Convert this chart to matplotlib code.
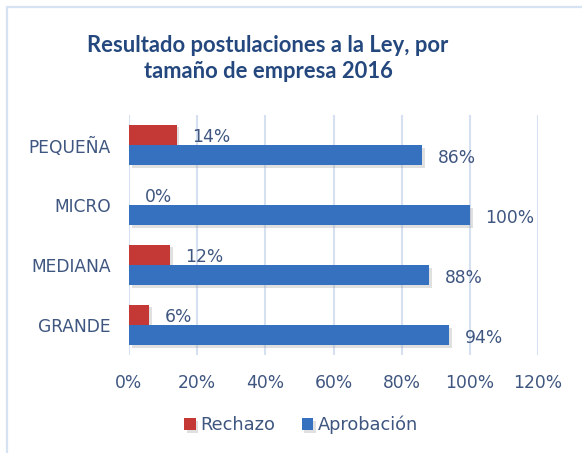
import matplotlib
matplotlib.use("Agg")
import matplotlib.pyplot as plt
import matplotlib.patheffects as pe
from matplotlib.patches import Rectangle
import numpy as np

categories = ["GRANDE", "MEDIANA", "MICRO", "PEQUEÑA"]
rechazo = [6, 12, 0, 14]
aprobacion = [94, 88, 100, 86]
xticks = [0, 20, 40, 60, 80, 100, 120]
title = "Resultado postulaciones a la Ley, por\ntamaño de empresa 2016"

plt.rcParams['font.family'] = ['DejaVu Sans']
txt = '#3F5680'
red = '#C43836'
blue = '#3671C0'
grid = '#D5E1F1'
fs = 12.3

fig = plt.figure(figsize=(5.82, 4.53), dpi=100)
fig.patches.append(Rectangle((7/582, -0.1), 1.2, 1 - 7/453 + 0.1, transform=fig.transFigure,
                             fill=False, edgecolor='#D6E3F3', linewidth=1.6))
ax = fig.add_axes([129/582, 1 - 355/453, (538 - 129)/582, (355 - 115)/453])

y = np.arange(len(categories))
h = 0.34
shadow = [pe.SimplePatchShadow(offset=(2, -2), shadow_rgbFace='#999999', alpha=0.3), pe.Normal()]
b1 = ax.barh(y + h/2, rechazo, height=h, color=red, label='Rechazo', zorder=3)
b2 = ax.barh(y - h/2, aprobacion, height=h, color=blue, label='Aprobación', zorder=3)
for b in list(b1) + list(b2):
    b.set_path_effects(shadow)

for i in range(len(categories)):
    ax.text(rechazo[i] + 4.6, y[i] + h/2 - 0.03, f"{rechazo[i]}%", va='center', ha='left',
            color=txt, fontsize=fs)
    ax.text(aprobacion[i] + 4.6, y[i] - h/2 - 0.05, f"{aprobacion[i]}%", va='center', ha='left',
            color=txt, fontsize=fs)

ax.set_xlim(0, 120)
ax.set_ylim(-0.5, 3.5)
ax.set_xticks(xticks)
ax.set_xticklabels([f"{v}%" for v in xticks])
ax.set_yticks(y)
ax.set_yticklabels(categories)
ax.tick_params(axis='both', length=0, colors=txt, labelsize=fs)
ax.tick_params(axis='x', pad=14)
ax.tick_params(axis='y', pad=13)
for s in ax.spines.values():
    s.set_visible(False)
ax.grid(axis='x', color=grid, linewidth=1.5, zorder=0)
ax.set_axisbelow(True)

fig.text(268/582, 1 - 58.5/453, title, ha='center', va='center', fontsize=15.8, fontweight='bold',
         color='#24487E', linespacing=1.3, family=['Lato', 'DejaVu Sans'])

leg = fig.legend(handles=[b1, b2], loc='center', bbox_to_anchor=(301/582, 1 - 425/453), ncol=2,
                 frameon=False, fontsize=12.8, handlelength=0.65, handleheight=0.65,
                 handletextpad=0.25, columnspacing=1.5)
for t in leg.get_texts():
    t.set_color(txt)

fig.savefig("out.png", dpi=100)
